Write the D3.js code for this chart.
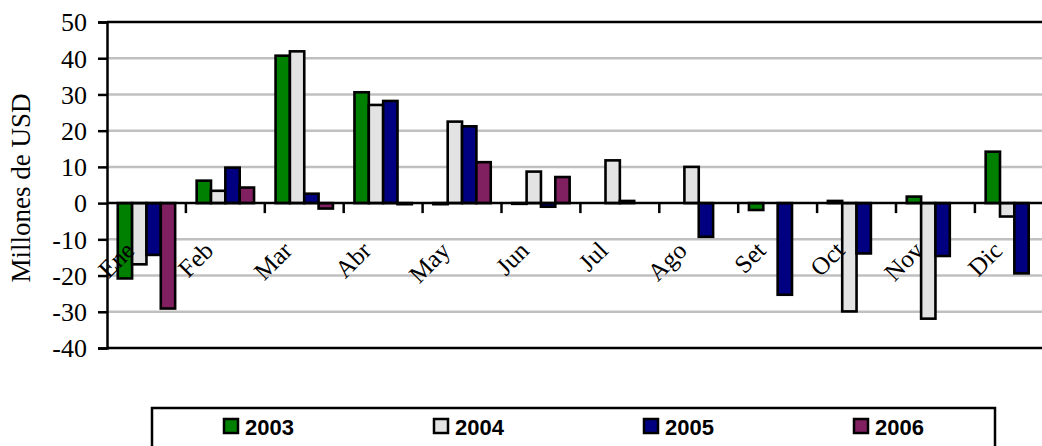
<!DOCTYPE html>
<html>
<head>
<meta charset="utf-8">
<script src="https://cdn.jsdelivr.net/npm/d3@7"></script>
<style>
  html, body { margin: 0; padding: 0; background: #fff; overflow: hidden; }
  svg { display: block; }
</style>
</head>
<body>
<svg id="chart" width="1042" height="446"></svg>
<script>
const months = ["Ene","Feb","Mar","Abr","May","Jun","Jul","Ago","Set","Oct","Nov","Dic"];
const years = ["2003","2004","2005","2006"];
const s2003 = [-20.8, 6.2, 40.7, 30.6, -0.3, -0.2, null, null, -1.9, 0.6, 1.8, 14.2];
const s2004 = [-16.9, 3.4, 41.9, 27.1, 22.5, 8.7, 11.8, 10.0, null, -29.9, -31.9, -3.7];
const s2005 = [-14.3, 9.8, 2.6, 28.2, 21.2, -1.0, 0.6, -9.3, -25.3, -13.9, -14.6, -19.4];
const s2006 = [-29.1, 4.3, -1.5, -0.3, 11.3, 7.2, null, null, null, null, null, null];
const yTicks = [-40, -30, -20, -10, 0, 10, 20, 30, 40, 50];
const yTitle = "Millones de USD";
const colors = ["#008000", "#e3e3e3", "#000080", "#802060"];

(function () {
const SERIF = "'Liberation Serif', 'Times New Roman', serif";
const series = [s2003, s2004, s2005, s2006];
const rows = [];
months.forEach((m, i) => years.forEach((yr, j) => {
  if (series[j][i] !== null) rows.push({ month: m, year: yr, value: series[j][i], k: j });
}));

const svg = d3.select("#chart");
const pL = 107, pT = 22, pB = 348, step = 78.9;
const pR = pL + months.length * step;

const x0 = d3.scaleBand().domain(months).range([pL, pR]).paddingInner(0).paddingOuter(0);
const x1 = d3.scaleBand().domain(years).range([0, x0.bandwidth()]).paddingInner(0).paddingOuter(0.75);
const y = d3.scaleLinear().domain([-40, 50]).range([pB, pT]);

// gridlines
svg.append("g").selectAll("line").data(yTicks.filter(t => t > -40 && t < 50 && t !== 0)).join("line")
  .attr("x1", pL).attr("x2", 1042).attr("y1", d => y(d)).attr("y2", d => y(d))
  .attr("stroke", "#c0c0c0").attr("stroke-width", 2.5);

// top & bottom border
svg.append("line").attr("x1", pL).attr("x2", 1042).attr("y1", y(50)).attr("y2", y(50))
  .attr("stroke", "#000").attr("stroke-width", 2.5);
svg.append("line").attr("x1", pL).attr("x2", 1042).attr("y1", y(-40)).attr("y2", y(-40))
  .attr("stroke", "#000").attr("stroke-width", 2.5);

// bars
svg.append("g").selectAll("rect").data(rows).join("rect")
  .attr("x", d => x0(d.month) + x1(d.year))
  .attr("width", x1.bandwidth())
  .attr("y", d => y(Math.max(0, d.value)))
  .attr("height", d => Math.abs(y(d.value) - y(0)))
  .attr("fill", d => colors[d.k])
  .attr("stroke", "#000").attr("stroke-width", 2.6);

// zero line
svg.append("line").attr("x1", pL).attr("x2", 1042).attr("y1", y(0)).attr("y2", y(0))
  .attr("stroke", "#000").attr("stroke-width", 2.5);

// category ticks
svg.append("g").selectAll("line").data(months.slice(1)).join("line")
  .attr("x1", d => x0(d)).attr("x2", d => x0(d))
  .attr("y1", y(0)).attr("y2", y(0) + 10)
  .attr("stroke", "#000").attr("stroke-width", 2.5);

// y axis
const yAxis = d3.axisLeft(y).tickValues(yTicks).tickSize(9).tickPadding(11).tickFormat(d => String(d));
const ga = svg.append("g").attr("transform", `translate(${pL},0)`).call(yAxis);
ga.attr("font-family", SERIF).attr("font-size", 26);
ga.select(".domain").attr("stroke", "#000").attr("stroke-width", 2.5);
ga.selectAll(".tick line").attr("stroke", "#000").attr("stroke-width", 2.5);
ga.selectAll(".tick text").style("font-family", SERIF)
  .style("font-size", "26px").attr("fill", "#000").attr("dy", "0.34em");

// month labels
svg.append("g").selectAll("text").data(months).join("text")
  .style("font-family", SERIF)
  .attr("transform", d => `translate(${x0(d) + x0.bandwidth() / 2 - 10.5},${y(0) + 49}) rotate(-45)`)
  .attr("text-anchor", "end")
  .style("font-size", "25px").attr("fill", "#000")
  .text(d => d);

// y title
svg.append("text")
  .style("font-family", SERIF)
  .attr("transform", `translate(30,${(pT + pB) / 2 + 3}) rotate(-90)`)
  .attr("text-anchor", "middle")
  .style("font-size", "27px").attr("fill", "#000")
  .text(yTitle);

// legend
svg.append("rect").attr("x", 152).attr("y", 408).attr("width", 843).attr("height", 60)
  .attr("fill", "#fff").attr("stroke", "#000").attr("stroke-width", 2.5);
const lx = d3.scalePoint().domain(years).range([223, 853]);
const lg = svg.append("g").selectAll("g").data(years).join("g")
  .attr("transform", d => `translate(${lx(d)},0)`);
lg.append("rect").attr("x", 1).attr("y", 419).attr("width", 14).attr("height", 14)
  .attr("fill", (d, i) => colors[i]).attr("stroke", "#000").attr("stroke-width", 2.5);
lg.append("text").attr("x", 22).attr("y", 435)
  .style("font-family", "'Liberation Sans', Arial, sans-serif").style("font-weight", "bold")
  .style("font-size", "22px").attr("fill", "#000").text(d => d);
})();
</script>
</body>
</html>
